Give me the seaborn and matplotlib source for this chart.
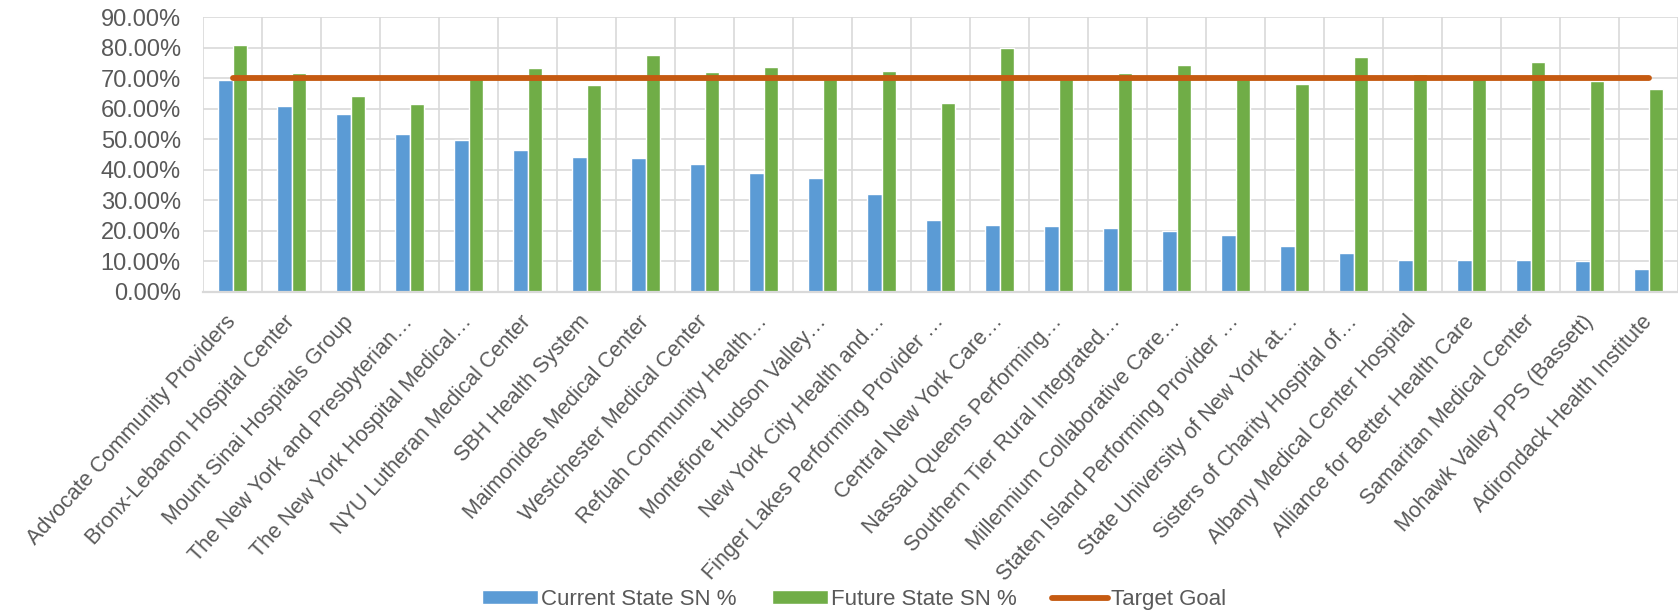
import numpy as np
import pandas as pd
import matplotlib
matplotlib.use("Agg")
import matplotlib.pyplot as plt
import seaborn as sns

categories = [
    "Advocate Community Providers",
    "Bronx-Lebanon Hospital Center",
    "Mount Sinai Hospitals Group",
    "The New York and Presbyterian\u2026",
    "The New York Hospital Medical\u2026",
    "NYU Lutheran Medical Center",
    "SBH Health System",
    "Maimonides Medical Center",
    "Westchester Medical Center",
    "Refuah Community Health\u2026",
    "Montefiore Hudson Valley\u2026",
    "New York City Health and\u2026",
    "Finger Lakes Performing Provider \u2026",
    "Central New York Care\u2026",
    "Nassau Queens Performing\u2026",
    "Southern Tier Rural Integrated\u2026",
    "Millennium Collaborative Care\u2026",
    "Staten Island Performing Provider \u2026",
    "State University of New York at\u2026",
    "Sisters of Charity Hospital of\u2026",
    "Albany Medical Center Hospital",
    "Alliance for Better Health Care",
    "Samaritan Medical Center",
    "Mohawk Valley PPS (Bassett)",
    "Adirondack Health Institute",
]
current_sn = [69.5, 60.9, 58.2, 51.8, 49.8, 46.6, 44.2, 43.7, 42.0, 39.0,
              37.2, 32.0, 23.4, 22.0, 21.5, 20.9, 19.8, 18.5, 15.1, 12.8,
              10.6, 10.4, 10.4, 10.1, 7.6]
future_sn = [81.0, 71.6, 64.2, 61.5, 69.8, 73.2, 67.6, 77.5, 71.9, 73.8,
             69.8, 72.3, 61.7, 79.9, 69.8, 71.6, 74.2, 69.8, 68.1, 76.8,
             71.3, 70.8, 75.2, 68.9, 66.6]
target_goal = [70.0] * len(categories)
series_names = ["Current State SN %", "Future State SN %"]
y_ticks = [0, 10, 20, 30, 40, 50, 60, 70, 80, 90]

df = pd.DataFrame({
    "org": categories * 2,
    "series": [series_names[0]] * len(categories) + [series_names[1]] * len(categories),
    "value": current_sn + future_sn,
})

sns.set_style("white")
plt.rcParams["font.family"] = ["Liberation Sans", "DejaVu Sans"]

fig = plt.figure(figsize=(16.78, 6.13), dpi=100)
ax = fig.add_axes([203 / 1678, 1 - 292 / 613, 1 - 203 / 1678, (292 - 17) / 613])

sns.barplot(data=df, x="org", y="value", hue="series", order=categories,
            hue_order=series_names, palette=["#5B9BD5", "#70AD47"],
            width=0.475, saturation=1, ax=ax, zorder=2)
ax.plot(np.arange(len(categories)), target_goal, color="#C55A11", lw=4.2,
        solid_capstyle="round", label="Target Goal", zorder=3)

ax.set_xlim(-0.5, len(categories) - 0.5)
ax.set_ylim(0, 90)
ax.set_yticks(y_ticks)
ax.set_yticklabels([f"{t:.2f}%" for t in y_ticks], color="#595959", fontsize=17)
ax.set_xticks(np.arange(len(categories)))
ax.set_xticklabels(categories, rotation=48, ha="right", va="center",
                   rotation_mode="anchor", color="#595959", fontsize=15.5)
ax.tick_params(axis="y", length=0, pad=16)
ax.tick_params(axis="x", length=0, pad=19)
ax.set_xlabel("")
ax.set_ylabel("")

# gridlines: horizontal at ticks, vertical between categories
for y in y_ticks[1:]:
    ax.axhline(y, color="#D9D9D9", lw=1.2, zorder=0)
for x in np.arange(len(categories) + 1) - 0.5:
    ax.axvline(x, color="#D9D9D9", lw=1.2, zorder=0)
for s in ["top", "right", "left"]:
    ax.spines[s].set_visible(False)
ax.spines["bottom"].set_color("#D9D9D9")
ax.spines["bottom"].set_linewidth(1.6)

handles, labels = ax.get_legend_handles_labels()
ax.get_legend().remove()
fig.legend(handles, labels, loc="center", bbox_to_anchor=(0.509, 0.022), ncol=3,
           frameon=False, fontsize=16, handlelength=2.5, handleheight=0.6,
           handletextpad=0.15, columnspacing=1.6, labelcolor="#595959")

fig.savefig("out.png", dpi=100)
